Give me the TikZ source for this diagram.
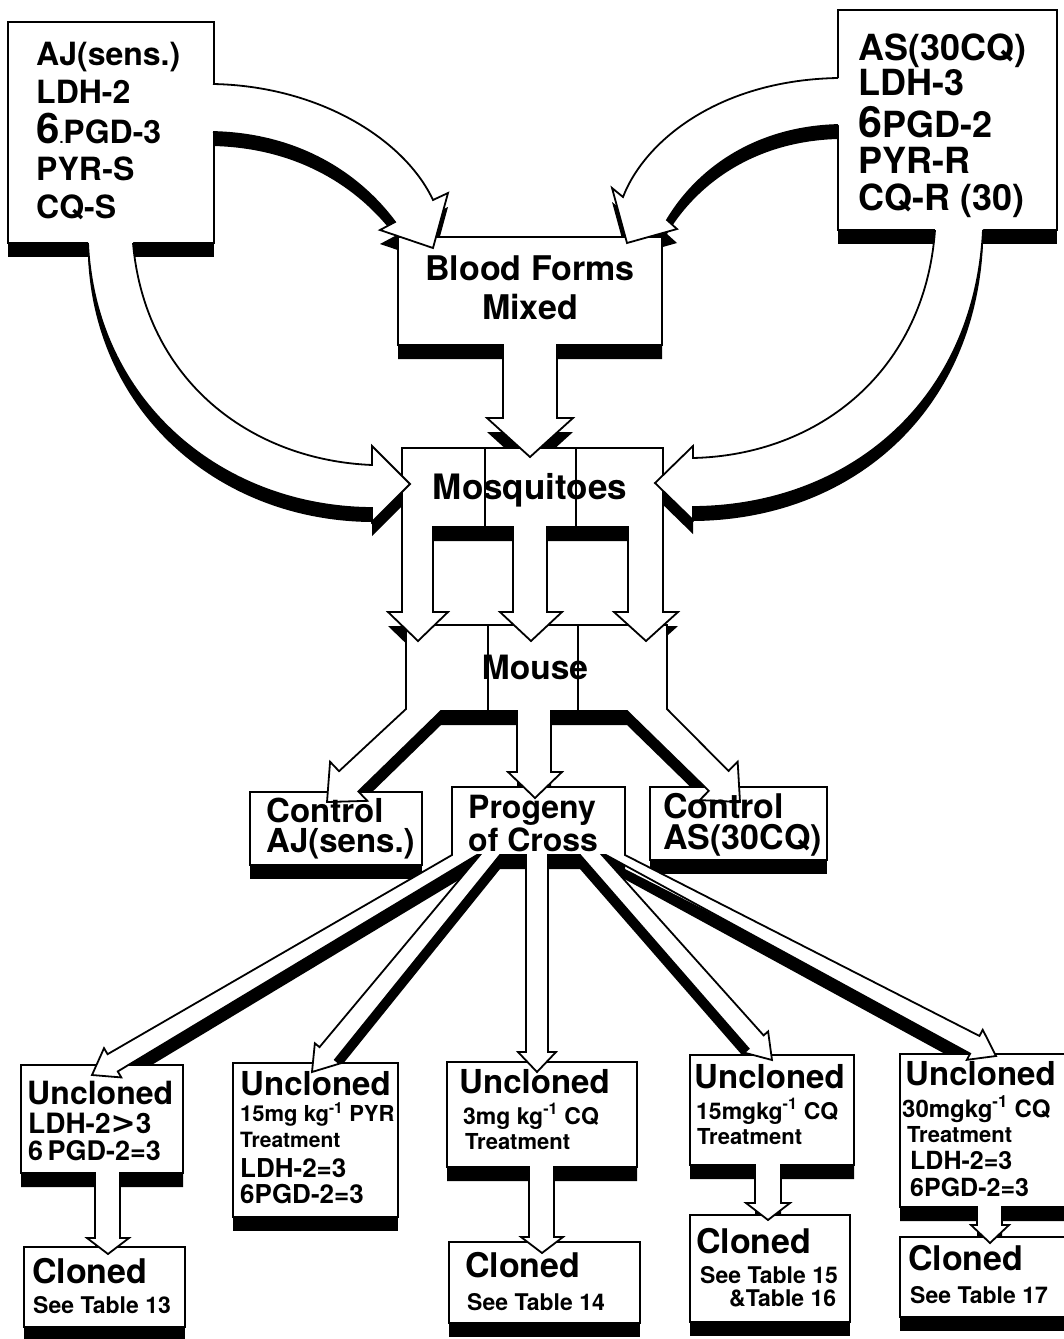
\documentclass[tikz,border=0pt]{standalone}
\usepackage{fontspec}
\setmainfont{TeX Gyre Heros}
\newfontfamily\dvs{DejaVu Sans}
\usetikzlibrary{calc}
\newcommand\fsz[1]{\fontsize{#1}{#1}\selectfont}
% reversed block-arrow fragment: -- B -- ... -- tip -- ... -- A
\newcommand\arrR[7]{-- (#2) -- ($(#4)!#5pt!(#3)!#7pt!90:(#4)$) -- ($(#4)!#5pt!(#3)!#6pt!90:(#4)$) -- (#4) -- ($(#4)!#5pt!(#3)!#6pt!-90:(#4)$) -- ($(#4)!#5pt!(#3)!#7pt!-90:(#4)$) -- (#1)}
% boxes
\def\BAJ{(8,22) rectangle (214,243)}
\def\BAS{(838,10) rectangle (1057,230)}
\def\BCAJ{(250,792) rectangle (422,865)}
\def\BCAS{(650,787) rectangle (827,860)}
\def\BUb{(233,1063) rectangle (398,1217)}
\def\BCa{(24,1247) rectangle (185,1327)}
\def\BCc{(449,1242) rectangle (640,1323)}
\def\BCd{(690,1215) rectangle (850,1322)}
\def\BCe{(900,1237) rectangle (1070,1317)}
% compound shapes
\def\PBlood{(398,237) -- (662,237) -- (662,345) -- (557,345) -- (557,418) -- (573,418) -- (530,457) -- (487,418) -- (503,418) -- (503,345) -- (398,345) -- cycle}
\def\PMosq{(402,448) -- (663,448) -- (663,612) -- (678,612) -- (646,641) -- (614,612) -- (628,612) -- (628,527) -- (547,527) -- (547,612) -- (562,612) -- (531,641) -- (500,612) -- (513,612) -- (513,527) -- (433,527) -- (433,612) -- (448,612) -- (418,641) -- (388,612) -- (402,612) -- cycle}
\def\PMouse{(406,625) -- (667,625) \arrR{627,711}{667,709}{647,710}{740,802}{30}{27}{14} -- (551,711) -- (551,772) -- (562,772) -- (535,798) -- (508,772) -- (517,772) -- (517,711) \arrR{406,709}{441,711}{423.5,710}{327,802}{30}{27}{14} -- cycle}
\def\PProg{(452,787) -- (625,787) \arrR{606,855}{625,855}{615.5,855}{996,1056}{24}{17}{10} \arrR{580,855}{602,855}{591,855}{772,1060}{24}{16}{10} \arrR{526,855}{548,855}{537,855}{537,1072}{20}{19}{11} \arrR{480,855}{500,855}{490,855}{312,1072}{24}{16}{10} \arrR{452,855}{477,855}{464.5,855}{92,1075}{24}{17}{10} -- cycle}
\def\PUa{(21,1065) -- (183,1065) -- (183,1173) -- (120,1173) -- (120,1238) -- (129,1238) -- (108,1254) -- (87,1238) -- (95,1238) -- (95,1173) -- (21,1173) -- cycle}
\def\PUc{(447,1062) -- (637,1062) -- (637,1167) -- (554,1167) -- (554,1237) -- (563,1237) -- (542,1253) -- (521,1237) -- (529,1237) -- (529,1167) -- (447,1167) -- cycle}
\def\PUd{(690,1055) -- (854,1055) -- (854,1165) -- (781,1165) -- (781,1203) -- (790,1203) -- (768,1220) -- (746,1203) -- (755,1203) -- (755,1165) -- (690,1165) -- cycle}
\def\PUe{(900,1054) -- (1070,1054) -- (1070,1207) -- (1002,1207) -- (1002,1225) -- (1009,1225) -- (990,1243) -- (971,1225) -- (977,1225) -- (977,1207) -- (900,1207) -- cycle}
% curved arrows: closed (fill) and open (outline)
\def\CAao{(213,84) .. controls (320,86) and (405,140) .. (433,200) -- (448,193) -- (433,248) -- (380,230) -- (395,222) .. controls (360,175) and (300,134) .. (213,132)}
\def\CAa{(205,84) -- \CAao -- (205,132) -- cycle}
\def\CAbo{(838,78) .. controls (720,80) and (645,140) .. (623,197) -- (612,188) -- (627,243) -- (677,229) -- (667,220) .. controls (700,165) and (760,127) .. (838,125)}
\def\CAb{(846,78) -- \CAbo -- (846,125) -- cycle}
\def\CAco{(88,243) .. controls (95,400) and (220,507) .. (372,508) -- (372,522) -- (410,484) -- (372,446) -- (372,465) .. controls (250,460) and (145,380) .. (133,243)}
\def\CAc{(88,235) -- \CAco -- (133,235) -- cycle}
\def\CAdo{(983,230) .. controls (975,400) and (850,506) .. (693,507) -- (693,520) -- (655,483) -- (693,446) -- (693,458) .. controls (820,455) and (925,370) .. (935,230)}
\def\CAd{(983,222) -- \CAdo -- (935,222) -- cycle}
\begin{document}
\begin{tikzpicture}[x=1pt,y=-1pt,
  body/.style={fill=white,draw=black,line width=1.8pt,line join=miter},
  ol/.style={draw=black,line width=1.8pt},
  txt/.style={anchor=base west,inner sep=0pt,font=\bfseries},
  ctxt/.style={anchor=base,inner sep=0pt,font=\bfseries,align=center}]
\useasboundingbox (0,0) rectangle (1064,1339);
\fill[white] (0,0) rectangle (1064,1339);
% ---------- shadows ----------
\begin{scope}[transform canvas={yshift=-14pt}]
\fill \BCa; \fill \BCc; \fill \BCd; \fill \BCe;
\fill \PUa; \fill \BUb; \fill \PUc; \fill \PUd; \fill \PUe;
\fill \BCAJ; \fill \BCAS; \fill \PProg; \fill \PMouse; \fill \PMosq; \fill \PBlood;
\fill \BAJ; \fill \BAS;
\fill \CAa; \fill \CAb; \fill \CAc; \fill \CAd;
\end{scope}
% ---------- bodies ----------
\path[body] \BCa; \path[body] \BCc; \path[body] \BCd; \path[body] \BCe;
\path[body] \PUa; \path[body] \BUb; \path[body] \PUc; \path[body] \PUd; \path[body] \PUe;
\path[body] \BCAJ; \path[body] \BCAS;
\path[body] \PProg;
\path[body] \PMouse;
\draw[ol] (488,625) -- (488,711); \draw[ol] (578,625) -- (578,711);
\path[body] \PMosq;
\draw[ol] (485,448) -- (485,527); \draw[ol] (576,448) -- (576,527);
\path[body] \PBlood;
\path[body] \BAJ; \path[body] \BAS;
\fill[white] \CAa; \draw[ol] \CAao;
\fill[white] \CAb; \draw[ol] \CAbo;
\fill[white] \CAc; \draw[ol] \CAco;
\fill[white] \CAd; \draw[ol] \CAdo;
% ---------- texts ----------
\node[txt] (aj1) at (36,65) {\fsz{32}AJ(sens.)};
\node[txt] (aj2) at (36,103) {\fsz{32}LDH-2};
\node[txt] (aj3) at (36,143) {\fsz{32}{\fsz{42}6}{\fsz{14}.}PGD-3};
\node[txt] (aj4) at (36,180) {\fsz{32}PYR-S};
\node[txt] (aj5) at (36,218) {\fsz{32}CQ-S};
\node[txt] (as1) at (858,60) {\fsz{36}AS(30CQ)};
\node[txt] (as2) at (858,95) {\fsz{36}LDH-3};
\node[txt] (as3) at (858,137) {\fsz{36}{\fsz{43}6}PGD-2};
\node[txt] (as4) at (858,173) {\fsz{36}PYR-R};
\node[txt] (as5) at (858,210) {\fsz{36}CQ-R (30)};
\node[ctxt] (bl1) at (530,280) {\fsz{34}Blood Forms};
\node[ctxt] (bl2) at (530,319) {\fsz{34}Mixed};
\node[ctxt] (mq) at (530,499) {\fsz{35}Mosquitoes};
\node[ctxt] (ms) at (535,679) {\fsz{33.5}Mouse};
\node[txt] (ca1) at (266,822) {\fsz{33}Control};
\node[txt] (ca2) at (266,852) {\fsz{33}AJ(sens.)};
\node[txt] (pr1) at (468,818) {\fsz{32}Progeny};
\node[txt] (pr2) at (468,851) {\fsz{32}of Cross};
\node[txt] (cs1) at (663,818) {\fsz{34}Control};
\node[txt] (cs2) at (663,849) {\fsz{34}AS(30CQ)};
\node[txt] (u1a) at (27,1104) {\fsz{32}Uncloned};
\node[txt] (u1b) at (28,1133) {\fsz{28}LDH-2{\dvs\bfseries\fsz{30}>}3};
\node[txt] (u1c) at (28,1160) {\fsz{27}6\,PGD-2=3};
\node[txt] (c1a) at (32,1283) {\fsz{34}Cloned};
\node[txt] (c1b) at (33,1313) {\fsz{23}See Table 13};
\node[txt] (u2a) at (240,1095) {\fsz{33}Uncloned};
\node[txt] (u2b) at (240,1121) {\fsz{22}15mg kg\textsuperscript{-1} PYR};
\node[txt] (u2c) at (240,1147) {\fsz{21}Treatment};
\node[txt] (u2d) at (240,1177) {\fsz{26}LDH-2=3};
\node[txt] (u2e) at (240,1203) {\fsz{26}6PGD-2=3};
\node[txt] (u3a) at (459,1093) {\fsz{33}Uncloned};
\node[txt] (u3b) at (463,1124) {\fsz{23}3mg kg\textsuperscript{-1} CQ};
\node[txt] (u3c) at (465,1149) {\fsz{22}Treatment};
\node[txt] (c3a) at (465,1277) {\fsz{34}Cloned};
\node[txt] (c3b) at (467,1310) {\fsz{23}See Table 14};
\node[txt] (u4a) at (694,1088) {\fsz{33}Uncloned};
\node[txt] (u4b) at (696,1119) {\fsz{23}15mgkg\textsuperscript{-1} CQ};
\node[txt] (u4c) at (697,1144) {\fsz{22}Treatment};
\node[txt] (c4a) at (696,1253) {\fsz{34}Cloned};
\node[txt] (c4b) at (700,1283) {\fsz{23}See Table 15};
\node[txt] (c4c) at (729,1306) {\fsz{23}\&Table 16};
\node[txt] (u5a) at (905,1085) {\fsz{33}Uncloned};
\node[txt] (u5b) at (902,1117) {\fsz{24}30mgkg\textsuperscript{-1} CQ};
\node[txt] (u5c) at (907,1142) {\fsz{22}Treatment};
\node[txt] (u5d) at (910,1169) {\fsz{25}LDH-2=3};
\node[txt] (u5e) at (910,1196) {\fsz{25}6PGD-2=3};
\node[txt] (c5a) at (908,1270) {\fsz{34}Cloned};
\node[txt] (c5b) at (910,1303) {\fsz{23}See Table 17};
\end{tikzpicture}
\end{document}
